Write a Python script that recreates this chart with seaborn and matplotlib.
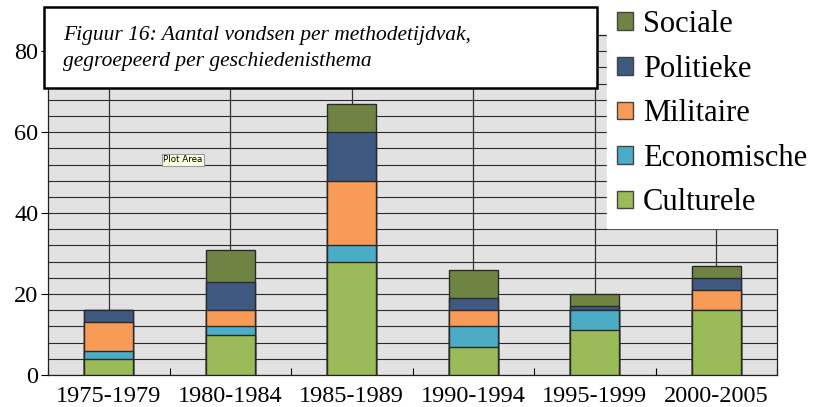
import numpy as np
import pandas as pd
import matplotlib.pyplot as plt
import seaborn as sns
from matplotlib.patches import Rectangle, Patch

# Values (stacked from bottom to top)
periods = ['1975-1979', '1980-1984', '1985-1989', '1990-1994', '1995-1999', '2000-2005']
culturele = [4, 10, 28, 7, 11, 16]
economische = [2, 2, 4, 5, 5, 0]
militaire = [7, 4, 16, 4, 0, 5]
politieke = [3, 7, 12, 3, 1, 3]
sociale = [0, 8, 7, 7, 3, 3]

themes = ['Culturele', 'Economische', 'Militaire', 'Politieke', 'Sociale']
colors = {'Culturele': '#9bbb59', 'Economische': '#4bacc6', 'Militaire': '#f79b57',
          'Politieke': '#3e5a80', 'Sociale': '#6f8443'}

df = pd.DataFrame({'Periode': periods, 'Culturele': culturele, 'Economische': economische,
                   'Militaire': militaire, 'Politieke': politieke, 'Sociale': sociale})
cum = df[themes].cumsum(axis=1)
totals = cum['Sociale']

plt.rcParams['font.family'] = ['Liberation Serif', 'DejaVu Serif']

fig = plt.figure(figsize=(8.17, 4.07), dpi=100)
ax = fig.add_axes([48 / 817, 1 - 375 / 407, (777 - 48) / 817, (375 - 35) / 407])
ax.set_facecolor('#e2e2e2')

# draw cumulative totals from the top layer down, so each lower layer overlays the next
for theme in reversed(themes):
    sns.barplot(x=df['Periode'], y=cum[theme], color=colors[theme], saturation=1,
                width=0.4, edgecolor='#2a2a2a', linewidth=1, ax=ax, zorder=3)

# leader lines from the top of each stack to the top of the plot
ax.vlines(range(len(periods)), totals, 84, color='#333333', lw=0.9, zorder=2)

ax.set_xlim(-0.5, len(periods) - 0.5)
ax.set_ylim(0, 84)
ax.set_yticks([0, 20, 40, 60, 80])
ax.set_yticks(np.arange(0, 85, 4), minor=True)
ax.yaxis.grid(True, which='both', color='#2a2a2a', lw=0.8)
ax.set_axisbelow(True)
ax.tick_params(axis='y', which='major', labelsize=17.5, length=5, width=0.8, pad=2)
ax.tick_params(axis='y', which='minor', length=0)

ax.set_xticks(range(len(periods)))
ax.set_xticklabels(periods)
ax.set_xticks(np.arange(-0.5, len(periods), 1), minor=True)
ax.tick_params(axis='x', which='major', length=0, labelsize=17.5, pad=8)
ax.tick_params(axis='x', which='minor', length=5, width=0.8, direction='in')
ax.set_xlabel('')
ax.set_ylabel('')
for s in ax.spines.values():
    s.set_color('#222222')
    s.set_linewidth(0.9)

# title box
fig.patches.append(Rectangle((44 / 817, 1 - 88 / 407), (597 - 44) / 817, (88 - 7) / 407,
                             transform=fig.transFigure, facecolor='white',
                             edgecolor='black', lw=1.8, zorder=4))
fig.text(63 / 817, 1 - 40 / 407, 'Figuur 16: Aantal vondsen per methodetijdvak,',
         fontsize=15.5, style='italic', va='baseline', ha='left', zorder=5)
fig.text(63 / 817, 1 - 66 / 407, 'gegroepeerd per geschiedenisthema',
         fontsize=15.5, style='italic', va='baseline', ha='left', zorder=5)

# tooltip left in the screenshot
fig.text(183 / 817, 1 - 160 / 407, 'Plot Area', fontsize=6.3, family='DejaVu Sans',
         ha='center', va='center', zorder=5,
         bbox=dict(boxstyle='square,pad=0.2', fc='#ffffe1', ec='#9a9a9a', lw=0.8))

handles = [Patch(facecolor=colors[t], edgecolor='#444444', lw=1) for t in reversed(themes)]
fig.legend(handles, list(reversed(themes)), loc='upper right', bbox_to_anchor=(1.0, 1.0),
           fontsize=22, frameon=True, facecolor='white', edgecolor='white',
           framealpha=1, fancybox=False, handlelength=0.52, handleheight=0.52,
           handletextpad=0.33, labelspacing=0.51, borderpad=0.33, borderaxespad=0)

fig.savefig('out.png', dpi=100, facecolor='white')
